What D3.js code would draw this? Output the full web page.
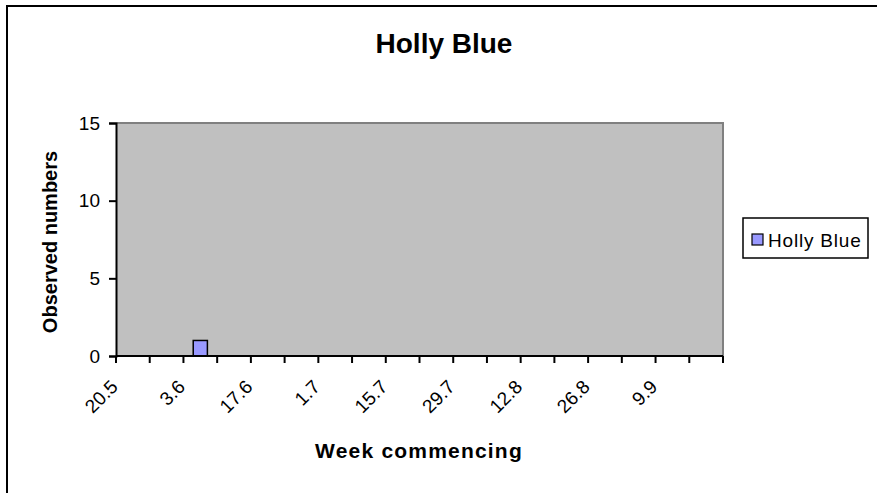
<!DOCTYPE html>
<html>
<head>
<meta charset="utf-8">
<script src="https://cdn.jsdelivr.net/npm/d3@7"></script>
<style>
  body { margin: 0; background: #ffffff; }
  svg text { font-family: Arial, "Liberation Sans", sans-serif; }
</style>
</head>
<body>
<div id="chart"></div>
<script>
// weekly categories (week commencing, day.month)
var weeks = ["20.5", "27.5", "3.6", "10.6", "17.6", "24.6", "1.7", "8.7", "15.7",
             "22.7", "29.7", "5.8", "12.8", "19.8", "26.8", "2.9", "9.9", "16.9"];
var hollyBlue = [0, 0, 1, 0, 0, 0, 0, 0, 0, 0, 0, 0, 0, 0, 0, 0, 0, 0];
var yTicks = [0, 5, 10, 15];
var seriesName = "Holly Blue";

var width = 877, height = 493;
var plotL = 116, plotR = 723, plotT = 123, plotB = 356;
var barColor = "#9999FF", plotBg = "#C0C0C0", plotEdge = "#808080";

var svg = d3.select("#chart")
    .append("svg")
    .attr("width", width)
    .attr("height", height);

// outer chart frame (runs off the right and bottom)
svg.append("rect")
    .attr("x", 7)
    .attr("y", 6)
    .attr("width", 900)
    .attr("height", 520)
    .attr("fill", "#ffffff")
    .attr("stroke", "#000000")
    .attr("stroke-width", 2);

var x = d3.scaleBand().domain(weeks).range([plotL, plotR]).padding(0);
var y = d3.scaleLinear().domain([0, 15]).range([plotB, plotT]);

// plot area
svg.append("rect")
    .attr("x", plotL)
    .attr("y", plotT)
    .attr("width", plotR - plotL)
    .attr("height", plotB - plotT)
    .attr("fill", plotBg);
svg.append("path")
    .attr("d", "M" + plotL + "," + plotT + "H" + plotR + "V" + plotB)
    .attr("fill", "none")
    .attr("stroke", plotEdge)
    .attr("stroke-width", 2);

// bars
var data = weeks.map(function (w, i) { return { week: w, value: hollyBlue[i] }; });
var bw = x.bandwidth() * 0.42;
svg.selectAll("rect.bar")
    .data(data.filter(function (d) { return d.value > 0; }))
    .enter()
    .append("rect")
    .attr("class", "bar")
    .attr("x", function (d) { return x(d.week) + x.bandwidth() / 2 - bw / 2; })
    .attr("y", function (d) { return y(d.value); })
    .attr("width", bw)
    .attr("height", function (d) { return y(0) - y(d.value); })
    .attr("fill", barColor)
    .attr("stroke", "#000000")
    .attr("stroke-width", 1.5);

// y axis
var yAxis = svg.append("g")
    .attr("transform", "translate(" + plotL + ",0)")
    .call(d3.axisLeft(y).tickValues(yTicks).tickSize(7).tickPadding(9));
yAxis.select(".domain").attr("stroke-width", 2);
yAxis.selectAll(".tick line").attr("stroke-width", 2);
yAxis.selectAll(".tick text")
    .attr("font-size", "19px")
    .attr("fill", "#000000")
    .style("font-family", "Arial, 'Liberation Sans', sans-serif");

// x axis: tick at every category boundary
var bounds = weeks.map(function (w) { return x(w); }).concat([plotR]);
svg.append("line")
    .attr("x1", plotL).attr("x2", plotR)
    .attr("y1", plotB).attr("y2", plotB)
    .attr("stroke", "#000000")
    .attr("stroke-width", 2);
svg.selectAll("line.xtick")
    .data(bounds)
    .enter()
    .append("line")
    .attr("class", "xtick")
    .attr("x1", function (d) { return d; })
    .attr("x2", function (d) { return d; })
    .attr("y1", plotB)
    .attr("y2", plotB + 7)
    .attr("stroke", "#000000")
    .attr("stroke-width", 2);

// every second week is labelled
svg.selectAll("text.xlab")
    .data(weeks.filter(function (w, i) { return i % 2 === 0; }))
    .enter()
    .append("text")
    .attr("class", "xlab")
    .attr("transform", function (d) {
        var cx = x(d) + x.bandwidth() / 2;
        return "translate(" + (cx - 14) + "," + 388 + ") rotate(-45)";
    })
    .attr("text-anchor", "end")
    .attr("font-size", "19px")
    .text(function (d) { return d; });

// titles
svg.append("text")
    .attr("x", 444)
    .attr("y", 53)
    .attr("text-anchor", "middle")
    .attr("font-size", "28px")
    .attr("font-weight", "bold")
    .text(seriesName);

svg.append("text")
    .attr("x", 419)
    .attr("y", 458)
    .attr("text-anchor", "middle")
    .attr("font-size", "21px")
    .attr("font-weight", "bold")
    .attr("letter-spacing", "1.2px")
    .text("Week commencing");

svg.append("text")
    .attr("transform", "translate(57,242) rotate(-90)")
    .attr("text-anchor", "middle")
    .attr("font-size", "20px")
    .attr("font-weight", "bold")
    .text("Observed numbers");

// legend
var legend = svg.append("g").attr("transform", "translate(743,218)");
legend.append("rect")
    .attr("width", 125)
    .attr("height", 40)
    .attr("fill", "#ffffff")
    .attr("stroke", "#000000")
    .attr("stroke-width", 1.5);
legend.append("rect")
    .attr("x", 9)
    .attr("y", 16)
    .attr("width", 11)
    .attr("height", 11)
    .attr("fill", barColor)
    .attr("stroke", "#000000")
    .attr("stroke-width", 1.2);
legend.append("text")
    .attr("x", 25)
    .attr("y", 29)
    .attr("font-size", "19px")
    .attr("letter-spacing", "0.8px")
    .text(seriesName);
</script>
</body>
</html>
